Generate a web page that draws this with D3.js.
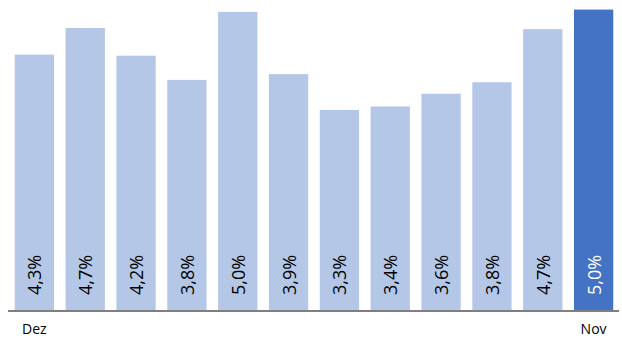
<!DOCTYPE html>
<meta charset="utf-8">
<style>
body { margin: 0; background: #fff; }
text { font-family: "Open Sans", sans-serif; }
</style>
<svg></svg>
<script src="https://d3js.org/d3.v7.min.js"></script>
<script>

// months, Dez .. Nov
var months = ["Dez", "Jan", "Fev", "Mar", "Abr", "Mai", "Jun", "Jul", "Ago", "Set", "Out", "Nov"];
var values = [4.26, 4.72, 4.24, 3.82, 5.00, 3.92, 3.30, 3.36, 3.58, 3.78, 4.70, 5.04];
var shownTicks = ["Dez", "Nov"];

var width = 622, height = 338;
var baseY = 310;

var svg = d3.select("svg")
    .attr("width", width)
    .attr("height", height);

var x = d3.scaleBand()
    .domain(months)
    .range([9, 619])
    .paddingInner(0.227)
    .paddingOuter(0.113);

var y = d3.scaleLinear()
    .domain([-0.17, 5.05])
    .range([baseY, 9]);

var last = months[months.length - 1];

var bars = svg.append("g").selectAll("g")
    .data(months)
    .enter().append("g");

bars.append("rect")
    .attr("x", function(d) { return x(d); })
    .attr("width", x.bandwidth())
    .attr("y", function(d, i) { return y(values[i]); })
    .attr("height", function(d, i) { return baseY - y(values[i]); })
    .attr("fill", function(d) { return d == last ? "#4472c4" : "#b4c7e7"; });

// value labels, rotated at bottom of each bar
bars.append("text")
    .attr("transform", function(d) {
      return "translate(" + (x(d) + x.bandwidth() / 2) + "," + (baseY - 15) + ") rotate(-90)";
    })
    .attr("dominant-baseline", "central")
    .attr("text-anchor", "start")
    .style("font-size", "18px")
    .attr("fill", function(d) { return d == last ? "#fff" : "#000"; })
    .text(function(d, i) { return values[i].toFixed(1).replace(".", ",") + "%"; });

// axis line
svg.append("line")
    .attr("x1", 8).attr("x2", 619)
    .attr("y1", baseY + 1).attr("y2", baseY + 1)
    .attr("stroke", "#7f7f7f")
    .attr("stroke-width", 2);

var xAxis = d3.axisBottom(x)
    .tickValues(shownTicks)
    .tickSize(0)
    .tickPadding(12);

var ax = svg.append("g")
    .attr("transform", "translate(0," + (baseY + 2) + ")")
    .call(xAxis);
ax.select(".domain").remove();
ax.selectAll("text")
    .style("font-family", "'Open Sans', sans-serif")
    .style("font-size", "14px")
    .attr("fill", "#000");

</script>
